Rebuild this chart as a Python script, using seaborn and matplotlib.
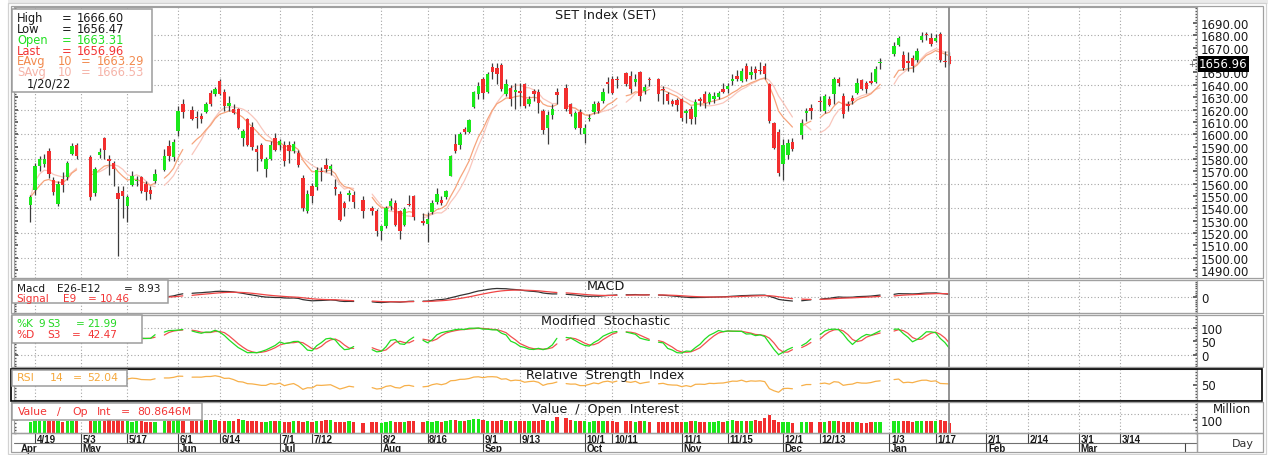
import matplotlib
matplotlib.use("Agg")
import matplotlib.pyplot as plt
from matplotlib.patches import Rectangle
from matplotlib.ticker import MultipleLocator
import numpy as np
import pandas as pd
import seaborn as sns

# ---- SET Index daily bars ----
first_day = "2021-04-16"
last_day = "2022-01-20"
holidays = ["2021-05-03", "2021-05-04", "2021-05-26", "2021-06-03", "2021-07-26",
            "2021-07-28", "2021-08-12", "2021-09-24", "2021-10-13", "2021-10-22",
            "2021-12-06", "2021-12-10", "2021-12-31", "2022-01-03"]

opens = [1542.8, 1555.0, 1574.0, 1576.2, 1586.7, 1563.1, 1543.6, 1564.0, 1565.0, 1584.3, 1591.0,
         1581.6, 1552.3, 1582.9, 1596.5, 1580.2, 1576.7, 1552.3, 1554.2, 1542.0, 1559.1, 1561.8, 1565.0, 1559.9, 1555.0, 1561.8,
         1570.7, 1590.8, 1581.6, 1602.5, 1624.2,
         1619.3, 1614.1, 1614.7, 1617.9, 1633.7, 1632.3, 1643.1, 1634.2, 1622.8, 1620.6,
         1620.6, 1597.0, 1612.0, 1606.0, 1588.1, 1591.6, 1571.8, 1580.0, 1597.0, 1591.6,
         1591.6, 1591.6, 1586.2, 1584.8, 1564.5, 1537.4, 1557.7, 1557.2, 1570.5, 1575.1,
         1571.9, 1557.0, 1551.8, 1544.2, 1550.4, 1551.0,
         1546.9,
         1540.1, 1537.4, 1521.1, 1525.2, 1541.5, 1544.2, 1537.4, 1526.6, 1543.7, 1549.6,
         1529.8, 1527.1, 1536.6, 1544.8, 1546.9, 1549.1, 1566.4, 1591.7, 1590.9, 1603.9,
         1601.7, 1622.0, 1632.3, 1645.1, 1634.2, 1654.6, 1654.0, 1655.9, 1632.3, 1637.8,
         1634.2, 1635.1, 1640.5, 1624.2, 1635.1, 1634.2, 1618.8, 1605.2, 1615.3, 1634.2,
         1637.8, 1624.2, 1605.2, 1618.0, 1599.8, 1612.0, 1618.0, 1625.6, 1626.9, 1642.4, 1645.1, 1644.5,
         1649.2, 1647.3, 1642.4, 1650.0, 1635.1, 1645.1,
         1645.1, 1637.0, 1632.3, 1626.9, 1627.7, 1628.3, 1617.4, 1620.7, 1614.2, 1628.8,
         1632.3, 1626.1, 1628.8, 1630.4, 1637.0, 1637.0, 1643.2, 1647.3, 1643.2, 1655.4,
         1647.8, 1653.2, 1651.9, 1654.9, 1640.5, 1608.8, 1601.7, 1576.2, 1583.5, 1593.6,
         1599.0, 1617.4, 1621.5,
         1626.9, 1618.8, 1628.8, 1632.3, 1644.6, 1631.0, 1624.2, 1629.6, 1633.7, 1644.0, 1641.8, 1643.2, 1642.4, 1657.6,
         1665.0, 1672.2, 1664.1, 1659.5, 1661.4, 1660.3, 1676.6, 1681.2, 1677.7, 1675.8, 1681.2, 1659.5, 1663.31]

highs = [1550.9, 1576.7, 1582.7, 1584.3, 1588.4, 1565.3, 1561.8, 1569.1, 1578.6, 1593.0, 1593.0,
         1583.5, 1573.4, 1588.9, 1597.9, 1583.5, 1578.6, 1558.2, 1558.2, 1551.0, 1569.9, 1566.4, 1566.4, 1561.8, 1557.7, 1571.8,
         1588.1, 1594.9, 1595.7, 1622.8, 1628.2,
         1622.8, 1618.7, 1617.4, 1626.1, 1635.8, 1638.5, 1645.0, 1636.4, 1630.9, 1624.2,
         1621.4, 1603.8, 1613.3, 1610.0, 1591.6, 1593.0, 1581.6, 1594.3, 1601.1, 1595.7,
         1594.3, 1594.3, 1594.3, 1587.5, 1567.2, 1554.5, 1560.4, 1573.4, 1573.5, 1580.8,
         1576.2, 1563.7, 1553.7, 1545.6, 1555.0, 1553.7,
         1549.6,
         1542.0, 1539.3, 1526.6, 1541.5, 1548.3, 1546.9, 1538.8, 1540.9, 1551.0, 1551.0,
         1536.0, 1536.6, 1546.9, 1556.4, 1549.6, 1555.0, 1583.5, 1599.8, 1601.7, 1606.0,
         1612.6, 1635.1, 1642.4, 1646.7, 1650.0, 1658.1, 1657.6, 1657.6, 1644.6, 1639.7,
         1641.8, 1641.8, 1641.8, 1631.0, 1636.4, 1636.4, 1620.1, 1618.8, 1624.2, 1637.8,
         1640.5, 1625.6, 1618.8, 1620.1, 1607.9, 1616.1, 1626.9, 1626.9, 1637.8, 1646.7, 1647.3, 1647.3,
         1650.5, 1651.3, 1648.6, 1651.3, 1640.5, 1646.7,
         1645.9, 1639.1, 1634.2, 1628.8, 1629.6, 1629.6, 1620.1, 1622.9, 1628.3, 1630.4,
         1635.1, 1634.2, 1634.2, 1635.1, 1641.8, 1641.8, 1648.6, 1652.1, 1654.0, 1657.6,
         1654.9, 1654.9, 1658.7, 1658.1, 1641.8, 1609.8, 1603.9, 1595.7, 1595.7, 1597.1,
         1612.0, 1621.5, 1624.2,
         1631.0, 1632.3, 1631.0, 1646.7, 1646.7, 1633.7, 1626.9, 1631.5, 1645.9, 1645.1, 1643.2, 1650.5, 1655.4, 1661.4,
         1675.0, 1679.3, 1667.6, 1666.3, 1664.1, 1669.5, 1682.6, 1683.1, 1682.0, 1681.2, 1683.1, 1667.6, 1666.60]

lows = [1528.4, 1550.9, 1569.9, 1573.4, 1564.5, 1550.4, 1541.6, 1553.1, 1563.1, 1583.5, 1580.2,
        1546.3, 1549.6, 1580.8, 1580.0, 1566.7, 1557.7, 1501.3, 1532.0, 1529.2, 1558.2, 1558.2, 1552.3, 1546.3, 1547.4, 1560.4,
        1569.9, 1578.0, 1578.0, 1598.4, 1613.3,
        1611.4, 1605.2, 1609.2, 1616.8, 1622.8, 1631.0, 1631.5, 1618.7, 1618.7, 1616.0,
        1603.8, 1590.3, 1590.8, 1587.0, 1570.0, 1578.0, 1565.3, 1579.4, 1586.2, 1587.5,
        1574.0, 1576.7, 1584.8, 1573.4, 1537.4, 1536.0, 1544.2, 1555.0, 1561.8, 1569.2,
        1567.3, 1551.0, 1529.5, 1533.4, 1545.6, 1540.1,
        1532.0,
        1534.7, 1517.1, 1514.4, 1523.9, 1538.8, 1525.2, 1514.9, 1525.2, 1541.5, 1530.6,
        1526.6, 1512.2, 1535.5, 1543.7, 1542.8, 1547.5, 1565.9, 1584.9, 1588.1, 1599.8,
        1600.6, 1621.5, 1628.3, 1628.3, 1633.7, 1644.6, 1640.5, 1635.1, 1631.0, 1622.9,
        1620.1, 1622.9, 1621.5, 1622.9, 1626.9, 1617.4, 1599.8, 1591.7, 1612.0, 1624.2,
        1618.8, 1614.7, 1603.9, 1599.8, 1593.0, 1610.6, 1616.1, 1616.9, 1625.6, 1633.7, 1632.3, 1637.8,
        1639.1, 1633.7, 1639.1, 1626.9, 1632.3, 1639.1,
        1626.9, 1624.2, 1624.2, 1622.9, 1618.8, 1610.7, 1609.3, 1607.9, 1607.9, 1622.9,
        1621.5, 1624.2, 1625.6, 1628.3, 1633.2, 1633.7, 1639.7, 1643.2, 1642.4, 1643.2,
        1645.1, 1644.6, 1648.6, 1645.1, 1609.3, 1587.6, 1565.9, 1563.2, 1579.5, 1586.2,
        1595.7, 1610.7, 1612.0,
        1618.8, 1617.4, 1622.9, 1624.2, 1639.1, 1613.4, 1618.8, 1624.2, 1632.3, 1635.9, 1633.2, 1640.5, 1641.8, 1652.7,
        1663.6, 1671.2, 1652.2, 1651.4, 1650.5, 1658.7, 1675.0, 1676.6, 1671.2, 1674.4, 1658.7, 1654.1, 1656.47]

closes = [1549.0, 1574.5, 1579.9, 1579.9, 1567.7, 1553.1, 1559.6, 1558.8, 1576.7, 1590.8, 1582.7,
          1548.8, 1571.8, 1585.4, 1587.5, 1578.6, 1571.8, 1547.7, 1549.6, 1549.0, 1566.4, 1563.1, 1554.2, 1552.8, 1551.7, 1568.0,
          1582.7, 1582.7, 1593.8, 1618.7, 1617.9,
          1612.0, 1612.8, 1612.5, 1624.2, 1624.2, 1636.9, 1632.3, 1622.8, 1625.0, 1617.4,
          1605.2, 1602.5, 1591.6, 1590.0, 1585.4, 1580.0, 1580.0, 1591.6, 1587.5, 1594.3,
          1578.0, 1586.2, 1592.4, 1575.3, 1540.1, 1551.7, 1549.6, 1571.3, 1569.2, 1571.9,
          1574.5, 1555.6, 1530.6, 1540.1, 1552.3, 1544.8,
          1537.4,
          1537.4, 1521.1, 1525.2, 1540.1, 1545.6, 1526.6, 1521.1, 1539.3, 1542.3, 1532.5,
          1527.9, 1531.2, 1544.2, 1551.8, 1544.2, 1553.7, 1582.7, 1586.2, 1600.3, 1601.7,
          1611.2, 1634.2, 1639.1, 1633.7, 1648.6, 1650.5, 1648.6, 1636.4, 1641.0, 1628.8,
          1635.9, 1633.7, 1622.9, 1628.8, 1632.3, 1625.6, 1603.3, 1615.3, 1620.1, 1631.5,
          1620.1, 1616.1, 1616.9, 1605.2, 1605.2, 1613.3, 1624.2, 1618.8, 1634.2, 1640.5, 1633.7, 1643.7,
          1640.5, 1636.4, 1644.6, 1631.0, 1638.3, 1644.0,
          1632.3, 1635.6, 1626.9, 1624.2, 1623.4, 1613.3, 1618.8, 1612.0, 1626.1, 1626.9,
          1625.6, 1632.3, 1631.0, 1633.2, 1634.2, 1639.1, 1645.1, 1644.6, 1651.3, 1645.1,
          1650.5, 1649.4, 1651.3, 1648.6, 1610.7, 1589.0, 1568.6, 1590.9, 1592.5, 1587.6,
          1609.3, 1618.8, 1618.8,
          1626.1, 1631.0, 1623.4, 1645.1, 1641.8, 1616.1, 1622.9, 1626.9, 1641.8, 1637.0, 1636.4, 1641.8, 1653.2, 1658.1,
          1671.2, 1677.7, 1653.3, 1658.1, 1654.9, 1667.6, 1679.3, 1680.4, 1673.1, 1677.7, 1660.3, 1658.7, 1656.96]

# traded value, million baht
values = [88, 95, 92, 90, 94, 90, 92, 88, 96, 94, 90,
          95, 92, 96, 94, 97, 92, 98, 95, 90, 88, 92, 90, 86, 84, 88,
          92, 90, 96, 100, 94,
          95, 92, 98, 102, 104, 100, 96, 94, 96, 95,
          108, 98, 96, 92, 90, 86, 84, 90, 92, 90,
          88, 86, 92, 90, 86, 90, 86, 92, 95, 104,
          98, 88, 86, 84, 90, 86,
          80,
          88, 84, 78, 88, 90, 84, 86, 88, 92, 90,
          86, 96, 88, 90, 88, 92, 104, 100, 96, 92,
          100, 108, 108, 102, 94, 96, 90, 98, 96, 92,
          96, 90, 92, 94, 90, 96, 98, 94, 92, 122,
          118, 98, 96, 94, 90, 88, 92, 94, 92, 96, 90, 88,
          92, 90, 86, 92, 90, 84,
          86, 88, 86, 84, 86, 88, 86, 90, 92, 86,
          84, 88, 86, 90, 88, 92, 100, 96, 95, 90,
          92, 102, 96, 118, 140, 100, 86, 82, 85, 80,
          85, 84, 82,
          84, 88, 92, 94, 90, 86, 84, 86, 84, 80, 78, 82, 85, 85,
          96, 94, 96, 90, 88, 92, 90, 92, 90, 95, 102, 92, 80.86]

date_ticks = ["2021-04-19", "2021-05-03", "2021-05-17", "2021-06-01", "2021-06-14", "2021-07-01",
              "2021-07-12", "2021-08-02", "2021-08-16", "2021-09-01", "2021-09-13", "2021-10-01",
              "2021-10-11", "2021-11-01", "2021-11-15", "2021-12-01", "2021-12-13", "2022-01-03",
              "2022-01-17", "2022-02-01", "2022-02-14", "2022-03-01", "2022-03-14"]
date_labels = ["4/19", "5/3", "5/17", "6/1", "6/14", "7/1", "7/12", "8/2", "8/16", "9/1", "9/13",
               "10/1", "10/11", "11/1", "11/15", "12/1", "12/13", "1/3", "1/17", "2/1", "2/14", "3/1", "3/14"]
month_ticks = ["2021-05-03", "2021-06-01", "2021-07-01", "2021-08-02", "2021-09-01", "2021-10-01",
               "2021-11-01", "2021-12-01", "2022-01-03", "2022-02-01", "2022-03-01", "2022-04-01"]
month_labels = ["May", "Jun", "Jul", "Aug", "Sep", "Oct", "Nov", "Dec", "Jan", "Feb", "Mar", ""]

W, H = 1268, 456
GREEN = "#1AE81A"
RED = "#F22E2E"
WICK = "#3C3C3C"
GRID = "#A5A5A5"
FRAME = "#A0A0A0"
TXT = "#1A1A1A"

sns.set_theme(style="white")
plt.rcParams["font.family"] = ["DejaVu Sans"]


def slot_of(d):
    # weekday slot counted from 4/19/2021 (holidays stay as blank slots)
    return int(np.busday_count("2021-04-19", np.datetime64(pd.Timestamp(d).date())))


days = pd.bdate_range(first_day, last_day)
days = days[~days.isin(pd.to_datetime(holidays))]
df = pd.DataFrame({"open": opens, "high": highs, "low": lows, "close": closes, "value": values}, index=days)
df["slot"] = [slot_of(d) for d in df.index]

# indicators
c = df["close"]
df["ema10"] = c.ewm(span=10, adjust=False).mean()
df["sma10"] = c.rolling(10, min_periods=1).mean()
macd = c.ewm(span=12, adjust=False).mean() - c.ewm(span=26, adjust=False).mean()
df["macd"] = macd
df["signal"] = macd.ewm(span=9, adjust=False).mean()
ll = df["low"].rolling(9, min_periods=1).min()
hh = df["high"].rolling(9, min_periods=1).max()
fast = 100 * (c - ll) / (hh - ll)
df["k"] = fast.rolling(3, min_periods=1).mean()
df["d"] = df["k"].rolling(3, min_periods=1).mean()
delta = c.diff()
gain = delta.clip(lower=0).ewm(alpha=1 / 14, adjust=False).mean()
loss = (-delta.clip(upper=0)).ewm(alpha=1 / 14, adjust=False).mean()
df["rsi"] = 100 - 100 / (1 + gain / loss.replace(0, np.nan))
df["rsi"] = df["rsi"].fillna(50)

g = df.set_index("slot").reindex(range(df["slot"].min(), df["slot"].max() + 1))

fig = plt.figure(figsize=(W / 100, H / 100), dpi=100)
fig.patch.set_facecolor("white")


def box(x0, y0, x1, y1):
    return [x0 / W, 1 - y1 / H, (x1 - x0) / W, (y1 - y0) / H]


PX0, PX1 = 14, 1197
ax_main = fig.add_axes(box(PX0, 8, PX1, 279))
ax_macd = fig.add_axes(box(PX0, 281, PX1, 314))
ax_sto = fig.add_axes(box(PX0, 316, PX1, 368))
ax_rsi = fig.add_axes(box(PX0, 370, PX1, 401))
ax_vol = fig.add_axes(box(PX0, 403, PX1, 434))
ax_date = fig.add_axes(box(PX0, 434, PX1, 453))
panels = [ax_main, ax_macd, ax_sto, ax_rsi, ax_vol]
XLIM = (-4.55, 251.6)
tick_slots = [slot_of(d) for d in date_ticks]
last_slot = df["slot"].iloc[-1]


def seg_line(ax, col, color, lw=1.0, alpha=1.0):
    s = g[col]
    groups = s.isna().cumsum()[s.notna()]
    for _, part in s.dropna().groupby(groups):
        if len(part) > 1:
            sns.lineplot(x=part.index.to_numpy(), y=part.to_numpy(), ax=ax, color=color,
                         lw=lw, alpha=alpha, legend=False, zorder=3)


for ax in panels:
    ax.set_xlim(*XLIM)
    ax.set_facecolor("white")
    for sp in ax.spines.values():
        sp.set_color(FRAME)
        sp.set_linewidth(0.8)
    for s in tick_slots:
        ax.axvline(s, color=GRID, lw=0.8, ls=(0, (1, 2)), zorder=0)
    ax.axvline(last_slot, color="#8A8A8A", lw=1.3, zorder=5)
    ax.yaxis.tick_right()
    ax.tick_params(axis="x", bottom=False, labelbottom=False)
    ax.tick_params(axis="y", which="both", left=True, right=True, labelleft=False, labelright=True,
                   direction="in", colors="#555555", labelcolor=TXT, labelsize=8.5, pad=3)
    ax.tick_params(axis="y", which="major", length=3)
    ax.tick_params(axis="y", which="minor", length=1.5)

# ---- price panel ----
for v in range(1500, 1681, 20):
    ax_main.axhline(v, color=GRID, lw=0.8, ls=(0, (1, 2)), zorder=0)
seg_line(ax_main, "sma10", "#F9C6BC", lw=0.9)
seg_line(ax_main, "ema10", "#F6A47C", lw=0.9)
up = df["close"] >= df["open"]
ax_main.vlines(df["slot"], df["low"], df["high"], color=WICK, lw=0.9, zorder=4)
body = (df["close"] - df["open"]).abs().clip(lower=0.9)
ax_main.bar(df["slot"], body, bottom=np.minimum(df["open"], df["close"]), width=0.74,
            color=np.where(up, GREEN, RED), linewidth=0, zorder=4)
ax_main.set_ylim(1483.4, 1703.1)
ax_main.set_yticks(np.arange(1490, 1691, 10))
ax_main.set_yticklabels([f"{v:.2f}" for v in np.arange(1490, 1691, 10)])
ax_main.yaxis.set_minor_locator(MultipleLocator(2.5))

# ---- MACD ----
ax_macd.axhline(0, color=GRID, lw=0.8, ls=(0, (1, 2)), zorder=0)
seg_line(ax_macd, "macd", "#333333", lw=0.9)
seg_line(ax_macd, "signal", "#F04545", lw=0.9)
m = float(np.nanmax(np.abs(g[["macd", "signal"]].to_numpy())))
ax_macd.set_ylim(-1.75 * m, 1.95 * m)
ax_macd.set_yticks([0])
ax_macd.yaxis.set_minor_locator(MultipleLocator(m / 4))

# ---- stochastic ----
for v in (0, 100):
    ax_sto.axhline(v, color=GRID, lw=0.8, ls=(0, (1, 2)), zorder=0)
seg_line(ax_sto, "d", "#F25050", lw=0.9)
seg_line(ax_sto, "k", "#22DD22", lw=0.9)
ax_sto.set_ylim(-42, 145)
ax_sto.set_yticks([0, 50, 100])
ax_sto.yaxis.set_minor_locator(MultipleLocator(10))

# ---- RSI ----
seg_line(ax_rsi, "rsi", "#F7B04A", lw=0.9)
ax_rsi.set_ylim(0, 100)
ax_rsi.set_yticks([50])
ax_rsi.yaxis.set_minor_locator(MultipleLocator(10))

# ---- value ----
for v in (0, 150):
    ax_vol.axhline(v, color=GRID, lw=0.8, ls=(0, (1, 2)), zorder=0)
ax_vol.bar(df["slot"], df["value"], width=0.74, color=np.where(up, GREEN, RED), linewidth=0, zorder=3)
ax_vol.set_ylim(0, 240)
ax_vol.set_yticks([100])
ax_vol.yaxis.set_minor_locator(MultipleLocator(25))

for ax in panels:
    ax.set_xlabel("")
    ax.set_ylabel("")

# ---- date axis ----
ax_date.set_xlim(*XLIM)
ax_date.set_ylim(0, 1)
ax_date.axis("off")
ax_date.axhline(0.474, color="#707070", lw=0.8)
for s, lab in zip(tick_slots, date_labels):
    ax_date.vlines(s, 0.474, 1.0, color="#444444", lw=0.8)
    ax_date.text(s + 0.35, 0.70, lab, fontsize=7, fontweight="bold", family="Liberation Sans",
                 color=TXT, ha="left", va="center", clip_on=True)
for d, lab in zip(month_ticks, month_labels):
    s = slot_of(d)
    ax_date.vlines(s, 0.0, 0.474, color="#444444", lw=0.8)
    ax_date.text(s + 0.35, 0.22, lab, fontsize=7, fontweight="bold", family="Liberation Sans",
                 color=TXT, ha="left", va="center", clip_on=True)
ax_date.text(XLIM[0] + 1.4, 0.22, "Apr", fontsize=7, fontweight="bold", family="Liberation Sans",
             color=TXT, ha="left", va="center")

# ---- overlay in pixel space: frames, legends, titles ----
ov = fig.add_axes([0, 0, 1, 1], zorder=10)
ov.set_xlim(0, W)
ov.set_ylim(H, 0)
ov.axis("off")
ov.patch.set_alpha(0)


def rect(x0, y0, x1, y1, ec=FRAME, fc="none", lw=0.9, z=1):
    ov.add_patch(Rectangle((x0, y0), x1 - x0, y1 - y0, ec=ec, fc=fc, lw=lw, zorder=z))


def txt(x, y, s, color=TXT, size=8.0, ha="left", **kw):
    ov.text(x, y, s, color=color, fontsize=size, ha=ha, va="center", zorder=6, **kw)


rect(8, 0, 1268, 5, ec="none", fc="#EAEAEA")
rect(8, 4, 1266, 455, ec="#D2D2D2")
rect(11, 7, 1263, 279)
rect(11, 281, 1263, 314)
rect(11, 316, 1263, 368)
rect(11, 369.5, 1262, 401.5, ec="black", lw=1.2)
rect(11, 403, 1263, 434)
rect(11, 434, 1197, 453)
rect(1197, 434, 1263, 453)

title_x = (PX0 + PX1) / 2
txt(title_x, 16, "SET Index (SET)", size=9.2, ha="center")
txt(title_x, 287, "MACD", size=9.2, ha="center")
txt(title_x, 322, "Modified  Stochastic", size=9.2, ha="center")
txt(title_x, 376, "Relative  Strength  Index", size=9.2, ha="center")
txt(title_x, 410, "Value  /  Open  Interest", size=9.2, ha="center")

# price legend
rect(12, 10, 152, 93, fc="white", ec="#9C9C9C", lw=1.1, z=4)
rows = [("High", None, "1666.60", TXT), ("Low", None, "1656.47", TXT),
        ("Open", None, "1663.31", "#22E022"), ("Last", None, "1656.96", "#F23434"),
        ("EAvg", "10", "1663.29", "#F28A4E"), ("SAvg", "10", "1666.53", "#F5B3A8")]
for i, (name, n, val, col) in enumerate(rows):
    y = 18.7 + i * 10.8
    txt(17, y, name, color=col, size=8.3)
    if n is None:
        txt(62, y, "=", color=col, size=8.3)
        txt(77, y, val, color=col, size=8.3)
    else:
        txt(58, y, n, color=col, size=8.3)
        txt(81, y, "=", color=col, size=8.3)
        txt(97, y, val, color=col, size=8.3)
txt(27, 84, "1/20/22", size=8.3)

# MACD legend
rect(12, 281, 168, 304, fc="white", ec="#9C9C9C", lw=1.1, z=4)
for x, s in [(16.7, "Macd"), (57, "E26-E12"), (124, "="), (137, "8.93")]:
    txt(x, 288.7, s, size=7.6)
for x, s in [(16.7, "Signal"), (63.3, "E9"), (88, "="), (100, "10.46")]:
    txt(x, 299.5, s, color="#F23434", size=7.6)

# stochastic legend
rect(12, 316, 142, 344, fc="white", ec="#9C9C9C", lw=1.1, z=4)
for x, s in [(16.7, "%K"), (38.5, "9"), (47.7, "S3"), (75.5, "="), (87.3, "21.99")]:
    txt(x, 324.3, s, color="#22D822", size=7.6)
for x, s in [(16.7, "%D"), (47.7, "S3"), (71.5, "="), (87.3, "42.47")]:
    txt(x, 335.5, s, color="#F23434", size=7.6)

# RSI legend
rect(12, 370.5, 127, 387, fc="white", ec="#9C9C9C", lw=1.1, z=4)
for x, s in [(16.7, "RSI"), (49.3, "14"), (73, "="), (87.3, "52.04")]:
    txt(x, 378, s, color="#F5A83C", size=7.8)

# value legend
rect(12, 404, 202, 421, fc="white", ec="#9C9C9C", lw=1.1, z=4)
for x, s in [(18.3, "Value"), (57.3, "/"), (72.7, "Op"), (97.3, "Int"), (120.7, "="), (137.3, "80.8646M")]:
    txt(x, 412.5, s, color="#F23434", size=7.8)

# right-side extras
y_last = 8 + (1703.1 - closes[-1]) / (1703.1 - 1483.4) * (279 - 8)
txt(1199, y_last, f"{closes[-1]:.2f}", color="white", size=8.5,
    bbox=dict(boxstyle="square,pad=0.12", fc="black", ec="none"))
txt(1192, y_last, "+", color="#555555", size=6, ha="center")
txt(1232, 410, "Million", size=8.5, ha="center")
txt(1243, 444, "Day", size=8, ha="center", color="#333333")

fig.savefig("out.png", dpi=100, facecolor=fig.get_facecolor())
